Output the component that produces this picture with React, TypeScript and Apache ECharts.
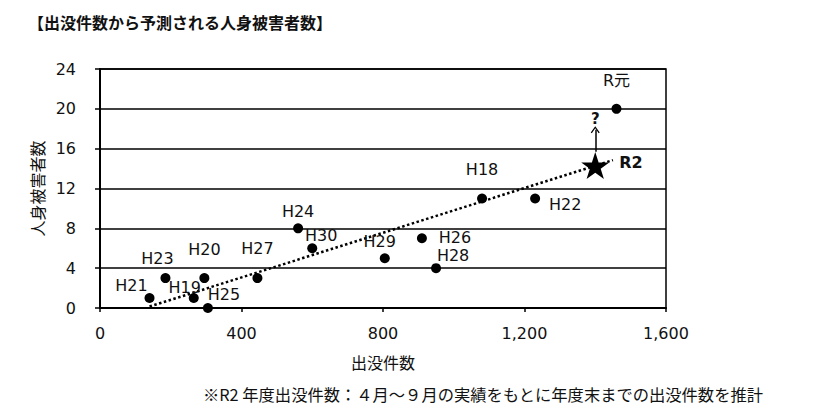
import React, { useEffect, useRef } from "react";
import * as echarts from "echarts";

// ---- data ----
const years = ["H18", "H19", "H20", "H21", "H22", "H23", "H24", "H25", "H26", "H27", "H28", "H29", "H30", "R元"];
const sightings = [1080, 265, 295, 140, 1230, 185, 560, 305, 910, 445, 950, 805, 600, 1460];
const victims = [11, 1, 3, 1, 11, 3, 8, 0, 7, 3, 4, 5, 6, 20];

const trendX = [140, 1450];
const trendY = [0.15, 14.85];

const forecastName = "R2";
const forecastX = 1400;
const forecastY = 14.3;
const arrowFromY = 15.7;
const arrowToY = 17.9;

const xMin = 0, xMax = 1600, xStep = 400;
const yMin = 0, yMax = 24, yStep = 4;

const titleText = "【出没件数から予測される人身被害者数】";
const xName = "出没件数";
const yName = "人身被害者数";
const footnote = "※R2 年度出没件数：４月～９月の実績をもとに年度末までの出没件数を推計";

// ---- label placement (px offsets of label centre from point centre) ----
const labelOffsets: Record<string, [number, number]> = {
  H18: [0, -29],
  H19: [-9, -11],
  H20: [0, -29],
  H21: [-18, -13],
  H22: [30, 6],
  H23: [-8, -20],
  H24: [0, -17],
  H25: [16, -14],
  H26: [33, -1],
  H27: [0, -30],
  H28: [17, -13],
  H29: [-5, -17],
  H30: [9, -13],
  "R元": [0, -28],
};

const INK = "#000000";
const TEXT = "#111111";
const LATIN = "'DejaVu Sans', 'Noto Sans CJK JP', sans-serif";
const CJK = "'Noto Sans CJK JP', sans-serif";
const STAR =
  "path://M50,0 L61.8,35.4 L99,35.4 L69,57.3 L80.3,92.7 L50,70.8 L19.7,92.7 L31,57.3 L1,35.4 L38.2,35.4 Z";
const CHEVRON = "path://M0,9 L5,0 L10,9 L8.8,10 L5,3 L1.2,10 Z";

export default function App() {
  const ref = useRef<HTMLDivElement>(null);

  useEffect(() => {
    if (!ref.current) return;
    const chart = echarts.init(ref.current, undefined, { renderer: "svg" });

    const points = years.map((n, i) => ({
      name: n,
      value: [sightings[i], victims[i]],
      label: { offset: labelOffsets[n] || [0, -17] },
    }));

    chart.setOption({
      animation: false,
      backgroundColor: "#ffffff",
      title: {
        text: titleText,
        left: 28,
        top: 14,
        padding: 0,
        textStyle: { fontFamily: CJK, fontSize: 16, fontWeight: "bold", color: TEXT },
      },
      grid: {
        left: 100,
        top: 69,
        width: 566,
        height: 239,
        show: true,
        borderColor: INK,
        borderWidth: 1.5,
        backgroundColor: "transparent",
        outerBoundsMode: "none",
      },
      xAxis: {
        type: "value",
        min: xMin,
        max: xMax,
        interval: xStep,
        name: xName,
        nameLocation: "middle",
        nameGap: 46,
        nameTextStyle: { fontFamily: CJK, fontSize: 16, color: TEXT },
        axisLine: { show: true, lineStyle: { color: INK, width: 2 } },
        axisTick: { show: true, length: 4, lineStyle: { color: INK, width: 1.5 } },
        axisLabel: {
          margin: 17,
          fontFamily: LATIN,
          fontSize: 16,
          color: TEXT,
          formatter: (v: number) => v.toLocaleString("en-US"),
        },
        splitLine: { show: false },
      },
      yAxis: {
        type: "value",
        min: yMin,
        max: yMax,
        interval: yStep,
        name: yName,
        nameLocation: "middle",
        nameRotate: 90,
        nameGap: 54,
        nameTextStyle: { fontFamily: CJK, fontSize: 16, color: TEXT },
        axisLine: { show: true, lineStyle: { color: INK, width: 2 } },
        axisTick: { show: true, length: 5, lineStyle: { color: INK, width: 1.5 } },
        axisLabel: { margin: 24, fontFamily: LATIN, fontSize: 16, color: TEXT },
        splitLine: { show: true, lineStyle: { color: INK, width: 1.5 } },
      },
      series: [
        {
          type: "line",
          data: trendX.map((x, i) => [x, trendY[i]]),
          showSymbol: false,
          symbol: "none",
          silent: true,
          lineStyle: { color: INK, width: 2.5, type: [2.5, 2.5] },
          z: 2,
        },
        {
          type: "scatter",
          data: points,
          symbol: "circle",
          symbolSize: 10,
          itemStyle: { color: INK, opacity: 1 },
          label: {
            show: true,
            position: "inside",
            formatter: "{b}",
            color: TEXT,
            textBorderWidth: 0,
            fontFamily: LATIN,
            fontSize: 16,
          },
          z: 3,
        },
        {
          type: "scatter",
          data: [{ name: forecastName, value: [forecastX, forecastY] }],
          symbol: STAR,
          symbolSize: [28, 27],
          itemStyle: { color: INK, opacity: 1 },
          label: {
            show: true,
            position: "right",
            distance: 10,
            offset: [0, -3],
            formatter: "{b}",
            color: TEXT,
            fontFamily: LATIN,
            fontSize: 16,
            fontWeight: "bold",
          },
          markLine: {
            silent: true,
            symbol: ["none", CHEVRON],
            symbolSize: [9, 7],
            lineStyle: { color: INK, width: 1.5, type: "solid", opacity: 1 },
            label: {
              show: true,
              position: "end",
              formatter: "?",
              distance: 3,
              color: TEXT,
              fontFamily: LATIN,
              fontSize: 15,
              fontWeight: "bold",
            },
            data: [[{ coord: [forecastX, arrowFromY] }, { coord: [forecastX, arrowToY] }]],
          },
          z: 4,
        },
      ],
      graphic: [
        {
          type: "text",
          left: 203,
          top: 386,
          style: { text: footnote, fontFamily: CJK, fontSize: 16.3, fill: TEXT },
        },
      ],
    });

    return () => chart.dispose();
  }, []);

  return (
    <div
      ref={ref}
      style={{ position: "fixed", left: 0, top: 0, width: 820, height: 410, background: "#fff" }}
    />
  );
}
